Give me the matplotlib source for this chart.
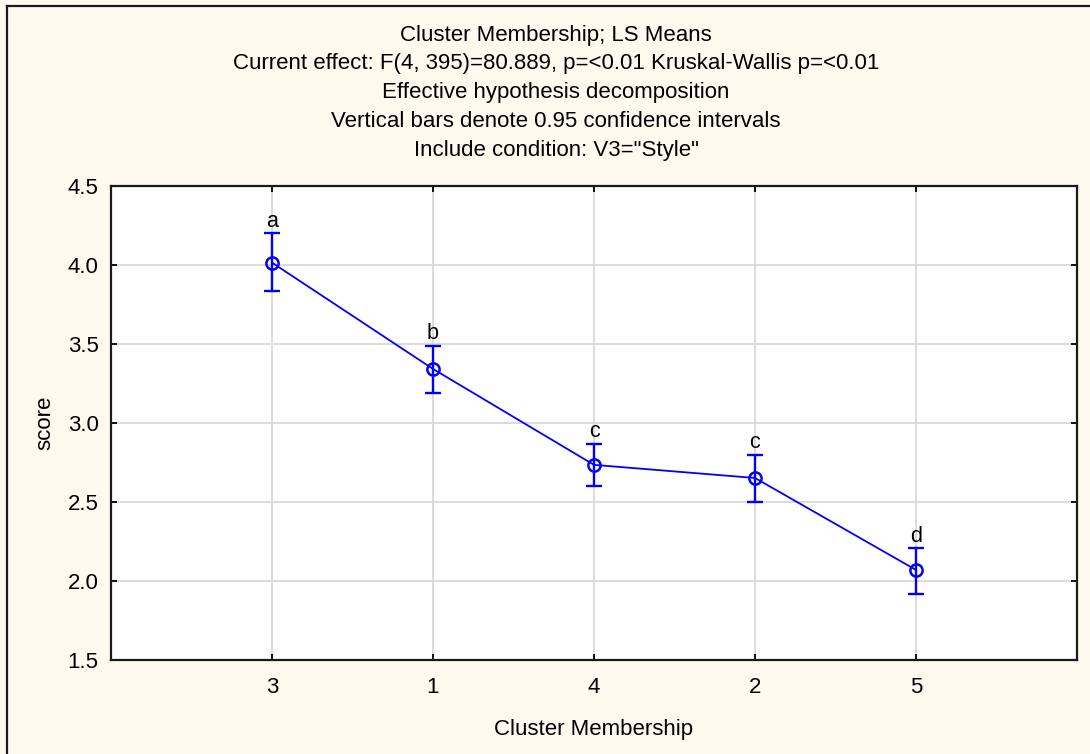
import matplotlib
matplotlib.use("Agg")
import matplotlib.pyplot as plt
from matplotlib.lines import Line2D

plt.rcParams['font.family'] = ['Liberation Sans', 'DejaVu Sans']

# LS means per cluster, ordered by score
clusters = ['3', '1', '4', '2', '5']
means = [4.015, 3.342, 2.735, 2.652, 2.070]
ci_low = [3.835, 3.190, 2.600, 2.500, 1.920]
ci_high = [4.200, 3.490, 2.870, 2.800, 2.210]
groups = ['a', 'b', 'c', 'c', 'd']

title_lines = [
    'Cluster Membership; LS Means',
    'Current effect: F(4, 395)=80.889, p=<0.01 Kruskal-Wallis p=<0.01',
    'Effective hypothesis decomposition',
    'Vertical bars denote 0.95 confidence intervals',
    'Include condition: V3="Style"',
]

W, H = 1090, 754
FS = 16
fig = plt.figure(figsize=(W / 100, H / 100), dpi=100)
fig.patch.set_facecolor('#fff9ee')

ax = fig.add_axes([111 / W, 1 - 660 / H, (1077 - 111) / W, (660 - 186) / H])
ax.set_facecolor('white')

x = list(range(1, len(clusters) + 1))
yerr = [[m - lo for m, lo in zip(means, ci_low)],
        [hi - m for m, hi in zip(means, ci_high)]]

ax.plot(x, means, color='#0000ff', lw=1.3, zorder=3)
ax.errorbar(x, means, yerr=yerr, fmt='none', ecolor='#0000ff',
            elinewidth=1.7, capsize=6, capthick=1.7, zorder=4)
ax.plot(x, means, 'o', mfc='none', mec='#0000ff', mew=1.8, ms=8.8, zorder=5)

for xi, hi, g in zip(x, ci_high, groups):
    ax.annotate(g, (xi, hi), xytext=(0, 4.5), textcoords='offset points',
                ha='center', va='baseline', fontsize=FS - 0.5)

ax.set_xlim(0, 6)
ax.set_ylim(1.5, 4.5)
ax.set_xticks(x)
ax.set_xticklabels(clusters)
ax.set_yticks([1.5, 2.0, 2.5, 3.0, 3.5, 4.0, 4.5])
ax.set_yticklabels(['1.5', '2.0', '2.5', '3.0', '3.5', '4.0', '4.5'])
ax.grid(True, color='#d9d9d9', lw=1.3, zorder=0)
ax.set_axisbelow(True)
ax.tick_params(direction='in', length=4, width=1.3, labelsize=FS,
               top=True, right=True, pad=9)
ax.tick_params(axis='x', pad=12)
for sp in ax.spines.values():
    sp.set_linewidth(1.6)
    sp.set_color('#1a1a1a')

ax.set_xlabel('Cluster Membership', fontsize=FS, labelpad=15)
ax.set_ylabel('score', fontsize=FS, labelpad=9)

for i, line in enumerate(title_lines):
    fig.text(556 / W, 1 - (35 + 28.8 * i) / H, line, ha='center', va='center',
             fontsize=FS)

# frame around the figure (left and top edges)
fig.add_artist(Line2D([7 / W, 7 / W], [0, 1 - 6 / H], transform=fig.transFigure,
                      color='#1a1a1a', lw=1.6))
fig.add_artist(Line2D([7 / W, 1], [1 - 6 / H, 1 - 6 / H], transform=fig.transFigure,
                      color='#1a1a1a', lw=1.6))

fig.savefig('out.png', dpi=100, facecolor=fig.get_facecolor())
